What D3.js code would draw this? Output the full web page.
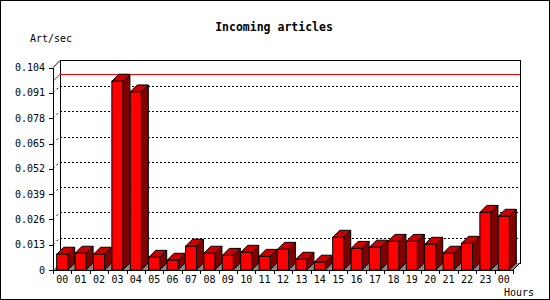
<!DOCTYPE html>
<html>
<head>
<meta charset="utf-8">
<script src="https://cdn.jsdelivr.net/npm/d3@7"></script>
<style>
  body { margin: 0; background: #fff; }
  text { font-family: "DejaVu Sans Mono", monospace; }
</style>
</head>
<body>
<div id="chart-area"></div>
<script>
// hours along the x axis (last "00" is the next day's first hour)
const hours = ["00","01","02","03","04","05","06","07","08","09","10","11","12",
               "13","14","15","16","17","18","19","20","21","22","23","00"];
// articles per second
const artPerSec = [0.0081, 0.0086, 0.0081, 0.0970, 0.0915, 0.0065, 0.0050, 0.0122,
                   0.0086, 0.0075, 0.0091, 0.0070, 0.0106, 0.0055, 0.0040, 0.0168,
                   0.0111, 0.0117, 0.0147, 0.0147, 0.0132, 0.0086, 0.0137, 0.0296, 0.0276];
const yTicks = [0, 0.013, 0.026, 0.039, 0.052, 0.065, 0.078, 0.091, 0.104];

const width = 550;
const height = 300;
const depth = 7;

const plot = { left: 53, right: 513, top: 67.6, bottom: 270 };

const svg = d3.select("#chart-area")
    .append("svg")
    .attr("width", width)
    .attr("height", height);

// outer frame
svg.append("rect")
    .attr("x", 0.5).attr("y", 0.5)
    .attr("width", width - 1).attr("height", height - 1)
    .attr("fill", "#fff").attr("stroke", "#000");

var x = d3.scaleBand()
    .domain(d3.range(hours.length))
    .range([plot.left, plot.right])
    .paddingInner(0.4)
    .paddingOuter(0.2);

var y = d3.scaleLinear()
    .domain([0, 0.104])
    .range([plot.bottom, plot.top]);

var g = svg.append("g").attr("shape-rendering", "crispEdges");

// back wall
g.append("rect")
    .attr("x", plot.left + depth).attr("y", y(0.104) - depth)
    .attr("width", plot.right - plot.left).attr("height", plot.bottom - y(0.104))
    .attr("fill", "#fff").attr("stroke", "#000");

// grid lines on the back wall and side wall
var grid = yTicks.filter(d => d > 0 && d < 0.104);
g.selectAll(".grid")
    .data(grid)
    .join("line")
    .attr("class", "grid")
    .attr("x1", plot.left + depth).attr("x2", plot.right + depth)
    .attr("y1", d => Math.round(y(d) - depth) + 0.5)
    .attr("y2", d => Math.round(y(d) - depth) + 0.5)
    .attr("stroke", "#000").attr("stroke-dasharray", "2,2");

svg.selectAll(".sidegrid")
    .data(grid)
    .join("line")
    .attr("class", "sidegrid")
    .attr("x1", plot.left).attr("x2", plot.left + depth)
    .attr("y1", d => y(d)).attr("y2", d => y(d) - depth)
    .attr("stroke", "#000").attr("stroke-dasharray", "2,3");

// max line
var maxVal = d3.max(artPerSec);
g.append("line")
    .attr("x1", plot.left + depth).attr("x2", plot.right + depth)
    .attr("y1", Math.round(y(maxVal) - depth) + 0.5)
    .attr("y2", Math.round(y(maxVal) - depth) + 0.5)
    .attr("stroke", "#ff0000");
svg.append("line")
    .attr("x1", plot.left).attr("x2", plot.left + depth)
    .attr("y1", y(maxVal)).attr("y2", y(maxVal) - depth)
    .attr("stroke", "#ff0000");

// floor
svg.append("polygon")
    .attr("points", [
        [plot.left, plot.bottom], [plot.right, plot.bottom],
        [plot.right + depth, plot.bottom - depth], [plot.left + depth, plot.bottom - depth]
    ].join(" "))
    .attr("fill", "#888");

// bars
var bw = x.bandwidth();
var bars = svg.append("g").attr("stroke", "#000").attr("stroke-width", 1);

artPerSec.forEach((v, i) => {
    var x0 = x(i), y0 = y(v), yb = y(0);
    bars.append("polygon")
        .attr("points", [[x0 + bw, y0], [x0 + bw + depth, y0 - depth],
                         [x0 + bw + depth, yb - depth], [x0 + bw, yb]].join(" "))
        .attr("fill", "#800000");
    bars.append("polygon")
        .attr("points", [[x0, y0], [x0 + depth, y0 - depth],
                         [x0 + bw + depth, y0 - depth], [x0 + bw, y0]].join(" "))
        .attr("fill", "#cc0000");
    bars.append("rect")
        .attr("x", x0).attr("y", y0)
        .attr("width", bw).attr("height", yb - y0)
        .attr("fill", "#ff0000");
});

// axes
var axes = svg.append("g").attr("stroke", "#000").attr("shape-rendering", "crispEdges");
axes.append("line")
    .attr("x1", plot.left + 0.5).attr("x2", plot.left + 0.5)
    .attr("y1", y(0.104)).attr("y2", plot.bottom);
axes.append("line")
    .attr("x1", plot.left).attr("x2", plot.right)
    .attr("y1", plot.bottom + 0.5).attr("y2", plot.bottom + 0.5);
svg.append("line")
    .attr("x1", plot.left).attr("y1", y(0.104))
    .attr("x2", plot.left + depth).attr("y2", y(0.104) - depth)
    .attr("stroke", "#000");
svg.append("line")
    .attr("x1", plot.right).attr("y1", plot.bottom)
    .attr("x2", plot.right + depth).attr("y2", plot.bottom - depth)
    .attr("stroke", "#000");

// y ticks
axes.selectAll(".ytick")
    .data(yTicks)
    .join("line")
    .attr("x1", plot.left - 4).attr("x2", plot.left)
    .attr("y1", d => Math.round(y(d)) + 0.5).attr("y2", d => Math.round(y(d)) + 0.5);

svg.selectAll(".ylabel")
    .data(yTicks)
    .join("text")
    .attr("x", plot.left - 8)
    .attr("y", d => y(d) + 3.5)
    .attr("text-anchor", "end")
    .attr("font-size", 10)
    .text(d => d === 0 ? "0" : d3.format(".3f")(d));

// x ticks at slot boundaries
var step = x.step();
axes.selectAll(".xtick")
    .data(d3.range(hours.length + 1))
    .join("line")
    .attr("x1", d => Math.round(plot.left + d * step) + 0.5)
    .attr("x2", d => Math.round(plot.left + d * step) + 0.5)
    .attr("y1", plot.bottom).attr("y2", plot.bottom + 4);

svg.selectAll(".xlabel")
    .data(hours)
    .join("text")
    .attr("x", (d, i) => x(i) + bw / 2)
    .attr("y", plot.bottom + 13)
    .attr("text-anchor", "middle")
    .attr("font-size", 10)
    .text(d => d);

// titles
svg.append("text")
    .attr("x", 274).attr("y", 31)
    .attr("text-anchor", "middle")
    .attr("font-size", 11.5).attr("font-weight", "bold")
    .text("Incoming articles");

svg.append("text")
    .attr("x", 30).attr("y", 41.5)
    .attr("font-size", 10)
    .text("Art/sec");

svg.append("text")
    .attr("x", 534).attr("y", 295.5)
    .attr("text-anchor", "end")
    .attr("font-size", 10)
    .text("Hours");
</script>
</body>
</html>
